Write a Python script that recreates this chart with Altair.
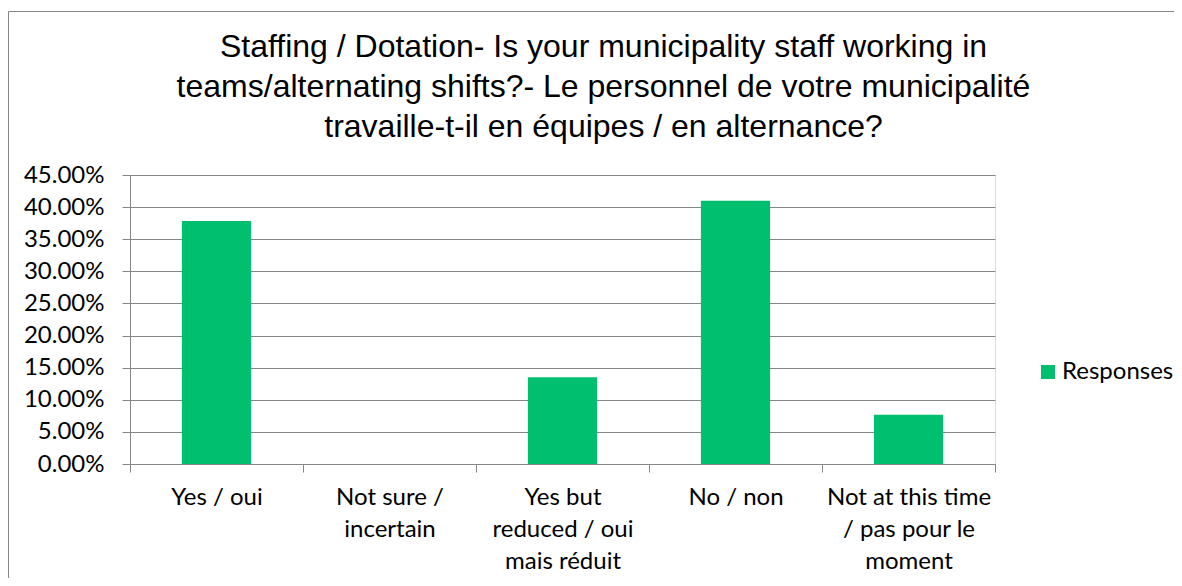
import altair as alt
import pandas as pd

categories = [
    "Yes / oui",
    "Not sure /|incertain",
    "Yes but|reduced / oui|mais réduit",
    "No / non",
    "Not at this time|/ pas pour le|moment",
]
values = [0.3784, 0.0, 0.1351, 0.4099, 0.0766]
series_name = "Responses"
y_ticks = [0, 0.05, 0.10, 0.15, 0.20, 0.25, 0.30, 0.35, 0.40, 0.45]
title_lines = [
    "Staffing / Dotation- Is your municipality staff working in",
    "teams/alternating shifts?- Le personnel de votre municipalité",
    "travaille-t-il en équipes / en alternance?",
]

df = pd.DataFrame({"cat": categories, "value": values, "series": [series_name] * len(categories)})

GREEN = "#00BF6F"
GRID = "#868686"
LABEL_FONT = "Lato"
LFS = 24

bars = alt.Chart(df).mark_bar(width=alt.RelativeBandSize(0.4)).encode(
    x=alt.X(
        "cat:N",
        sort=categories,
        scale=alt.Scale(paddingInner=0, paddingOuter=0),
        axis=alt.Axis(
            title=None,
            labelAngle=0,
            labelExpr="split(datum.label, '|')",
            labelFont=LABEL_FONT,
            labelFontSize=LFS,
            labelColor="#000000",
            labelLineHeight=32,
            labelBaseline="top",
            labelPadding=13,
            tickBand="extent",
            ticks=True,
            tickSize=8,
            tickColor=GRID,
            domainColor=GRID,
            grid=False,
        ),
    ),
    y=alt.Y(
        "value:Q",
        scale=alt.Scale(domain=[0, 0.45], nice=False),
        axis=alt.Axis(
            title=None,
            values=y_ticks,
            format=".2%",
            labelFont=LABEL_FONT,
            labelFontSize=LFS,
            labelColor="#000000",
            labelPadding=18,
            tickSize=8,
            tickColor=GRID,
            domainColor=GRID,
            gridColor=GRID,
            grid=True,
        ),
    ),
    color=alt.Color(
        "series:N",
        scale=alt.Scale(range=[GREEN]),
        legend=alt.Legend(
            title=None,
            orient="none",
            legendX=906,
            legendY=185,
            symbolType="square",
            symbolSize=196,
            symbolStrokeWidth=0,
            labelFont=LABEL_FONT,
            labelFontSize=LFS,
            labelColor="#000000",
            labelOffset=2,
        ),
    ),
)

border = alt.Chart(pd.DataFrame({"b": [1]})).mark_rect(
    fill="transparent", stroke=GRID, strokeWidth=1
).encode(
    x=alt.value(-121.5), x2=alt.value(1200), y=alt.value(-163.5), y2=alt.value(600)
)

chart = alt.layer(border, bars).properties(
    width=865,
    height=289,
    padding={"left": 122, "top": 167, "right": 179, "bottom": 114},
    autosize=alt.AutoSizeParams(type="none"),
    title=alt.TitleParams(
        text=title_lines,
        font="Liberation Sans",
        fontSize=32,
        fontWeight="normal",
        color="#000000",
        lineHeight=40,
        anchor="middle",
        frame="group",
        dx=41,
        offset=-133,
    ),
).configure_view(stroke=None).configure(background="white")

chart.save("out.html", embed_options={"renderer": "svg", "actions": False})
